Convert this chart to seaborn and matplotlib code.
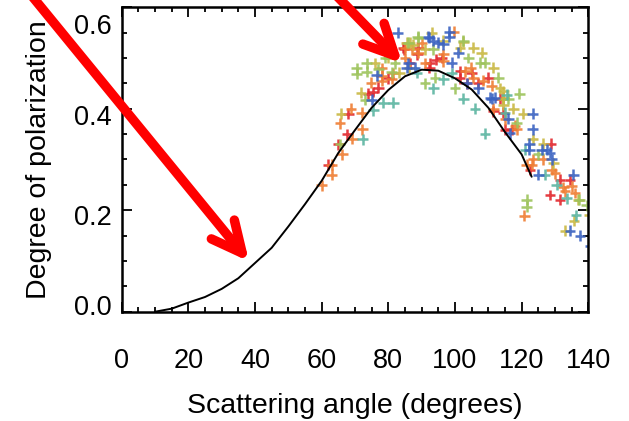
import numpy as np
import pandas as pd
import matplotlib
matplotlib.use("Agg")
import matplotlib.pyplot as plt
import matplotlib.transforms as mtransforms
import seaborn as sns
from matplotlib.ticker import MultipleLocator

# ---- model curve ----
curve_x = [10, 15, 20, 25, 30, 35, 40, 45, 50, 55, 60, 65, 70, 75, 80, 85, 90, 95, 100, 105, 110, 115, 120, 123]
curve_y = [0.0, 0.006, 0.018, 0.029, 0.045, 0.066, 0.096, 0.126, 0.168, 0.212, 0.258, 0.313, 0.358, 0.402,
           0.437, 0.464, 0.477, 0.475, 0.460, 0.438, 0.402, 0.354, 0.310, 0.266]

# ---- observations (per colour group) ----
red_x = [62, 65, 67.7, 68, 74, 75.3, 77, 84.7, 88.7, 86.5, 92.5, 94.3, 92.3, 101.5, 101.5, 103.5, 107, 110,
         114.5, 111.5, 113.5, 115, 117, 122.5, 128.7, 131.5, 134.5, 128.5, 131.5, 84.5, 89, 96, 105, 80]
red_y = [0.29, 0.33, 0.35, 0.39, 0.43, 0.433, 0.441, 0.517, 0.507, 0.49, 0.49, 0.497, 0.481, 0.474, 0.46, 0.45,
         0.45, 0.461, 0.392, 0.395, 0.42, 0.359, 0.36, 0.28, 0.331, 0.26, 0.26, 0.23, 0.221, 0.52, 0.52, 0.5, 0.47, 0.46]

orange_x = [60, 63, 63, 66.2, 69.2, 72.2, 68.8, 72, 65.5, 74.8, 78, 78, 78, 81, 85, 85, 99.7, 87, 89, 96.5, 91,
            96.5, 104.7, 103, 105.5, 108.5, 111, 114.5, 111.5, 115, 118, 118.5, 126.5, 123.5, 123, 121.5, 129, 130,
            132.5, 135, 133, 136, 120.8, 90, 81.5]
orange_y = [0.249, 0.27, 0.29, 0.31, 0.341, 0.36, 0.40, 0.392, 0.371, 0.451, 0.455, 0.465, 0.48, 0.459, 0.50, 0.52,
            0.552, 0.517, 0.51, 0.507, 0.49, 0.494, 0.481, 0.474, 0.461, 0.455, 0.445, 0.422, 0.40, 0.379, 0.367,
            0.36, 0.30, 0.30, 0.29, 0.29, 0.28, 0.273, 0.245, 0.247, 0.237, 0.234, 0.189, 0.53, 0.47]

yellow_x = [65.8, 71.8, 83.3, 86.3, 86.5, 85.5, 87.5, 96.5, 101.5, 105.5, 102.5, 91, 111.5, 113.5, 114.5, 114.5,
            114.5, 117.5, 120.5, 123.3, 126.5, 129.5, 137, 140.3, 135.7, 133, 76, 80, 93, 108]
yellow_y = [0.39, 0.432, 0.471, 0.481, 0.53, 0.53, 0.526, 0.534, 0.52, 0.52, 0.532, 0.517, 0.481, 0.44, 0.435, 0.42,
            0.408, 0.40, 0.39, 0.34, 0.331, 0.293, 0.221, 0.19, 0.179, 0.16, 0.49, 0.5, 0.55, 0.51]

green_x = [65.5, 70.5, 70.5, 73.5, 73.5, 77, 81, 73, 79, 88.8, 86, 89, 93.5, 104, 102.5, 107.5, 109, 113, 94, 91,
           100, 119.3, 116, 118.5, 125, 121.5, 121.5, 137.3, 139.5, 82]
green_y = [0.33, 0.469, 0.48, 0.473, 0.49, 0.478, 0.472, 0.418, 0.5, 0.542, 0.53, 0.54, 0.517, 0.50, 0.534, 0.491,
           0.491, 0.461, 0.461, 0.45, 0.44, 0.43, 0.42, 0.372, 0.31, 0.221, 0.207, 0.221, 0.21, 0.49]

teal_x = [72.3, 75.5, 78.5, 81.5, 88.5, 96.5, 93.5, 102.5, 106, 109, 115.5, 115, 121, 127, 130.5, 133.5, 136.3, 99]
teal_y = [0.34, 0.397, 0.412, 0.412, 0.471, 0.458, 0.44, 0.42, 0.40, 0.351, 0.428, 0.392, 0.319, 0.27, 0.25,
          0.224, 0.19, 0.47]

blue_x = [75, 76.5, 85.5, 86, 82.8, 98.3, 98.3, 92.3, 92, 93.5, 95, 96.5, 101, 99, 88, 103.5, 107, 110.5, 112, 116,
          111, 116.5, 123.3, 123.3, 122.3, 122.3, 126, 127.5, 128.5, 129, 125, 135.5, 134.5, 137.5, 140.5]
blue_y = [0.418, 0.466, 0.481, 0.49, 0.55, 0.552, 0.542, 0.54, 0.542, 0.534, 0.53, 0.527, 0.51, 0.491, 0.481, 0.45,
          0.44, 0.422, 0.422, 0.38, 0.42, 0.352, 0.39, 0.36, 0.331, 0.319, 0.319, 0.319, 0.313, 0.30, 0.27, 0.27,
          0.16, 0.15, 0.13]

groups = ["red", "orange", "yellow", "green", "teal", "blue"]
palette = {"red": "#e2272c", "orange": "#ef7d33", "yellow": "#c9b842", "green": "#9dc35b",
           "teal": "#5cb5a1", "blue": "#3b63c1"}
xs = [red_x, orange_x, yellow_x, green_x, teal_x, blue_x]
ys = [red_y, orange_y, yellow_y, green_y, teal_y, blue_y]
obs = pd.concat([pd.DataFrame({"angle": x, "pol": y, "group": g}) for g, x, y in zip(groups, xs, ys)],
                ignore_index=True)
model = pd.DataFrame({"angle": curve_x, "pol": curve_y})

x_ticks = [0, 20, 40, 60, 80, 100, 120, 140]
y_ticks = [0.0, 0.2, 0.4, 0.6]
y_tick_labels = ["0.0", "0.2", "0.4", "0.6"]

# arrows (annotation pointers): start and tip in data units
arrow1_start = (-29.9, 0.646)
arrow1_tip = (38.2, 0.099)
arrow2_start = (62.5, 0.636)
arrow2_tip = (84.2, 0.4895)

sns.set_theme(style="ticks")
plt.rcParams["font.family"] = ["Liberation Sans", "DejaVu Sans"]
for k in ["text.color", "axes.labelcolor", "xtick.color", "ytick.color", "axes.edgecolor"]:
    plt.rcParams[k] = "black"

fig = plt.figure(figsize=(6.29, 4.21), dpi=100)
ax = fig.add_axes([0.1935, 0.2596, 0.7418, 0.7231])

sns.scatterplot(data=obs, x="angle", y="pol", hue="group", palette=palette, marker="+", s=62,
                linewidth=1.8, alpha=0.9, legend=False, ax=ax, zorder=2)
sns.lineplot(data=model, x="angle", y="pol", color="black", linewidth=1.4, ax=ax, zorder=3)

ax.set_xlim(0, 140)
ax.set_ylim(0, 0.6)
ax.set_xticks(x_ticks)
ax.set_yticks(y_ticks)
ax.set_yticklabels(y_tick_labels)
ax.xaxis.set_minor_locator(MultipleLocator(5))
ax.yaxis.set_minor_locator(MultipleLocator(0.05))
ax.tick_params(which="both", direction="in", top=True, right=True, width=1.3, color="black")
ax.tick_params(which="major", length=7)
ax.tick_params(which="minor", length=3.5)
ax.tick_params(axis="x", which="major", pad=26, labelsize=19.5)
ax.tick_params(axis="y", which="major", pad=7, labelsize=19.5)
for sp in ax.spines.values():
    sp.set_linewidth(1.8)
    sp.set_color("black")
ax.set_xlabel("Scattering angle (degrees)", fontsize=20.5, labelpad=14)
ax.set_ylabel("Degree of polarization", fontsize=20.5, labelpad=16)

for start, tip in [(arrow1_start, arrow1_tip), (arrow2_start, arrow2_tip)]:
    ax.annotate("", xy=tip, xytext=start, xycoords="data", textcoords="data",
                arrowprops=dict(arrowstyle="->,head_length=22,head_width=10.7", mutation_scale=1,
                                color="#ff0000", lw=6.8, shrinkA=0, shrinkB=0,
                                capstyle="round", joinstyle="round"),
                annotation_clip=False, zorder=5)

fig.canvas.draw()
# IDL-style vertical placement of the y tick labels (pixels, positive = down)
y_shift_px = [-7, 5, 6, 17]
for lab, dy in zip(ax.get_yticklabels(), y_shift_px):
    lab.set_transform(lab.get_transform() + mtransforms.Affine2D().translate(0, -dy))

fig.savefig("out.png", dpi=100)
